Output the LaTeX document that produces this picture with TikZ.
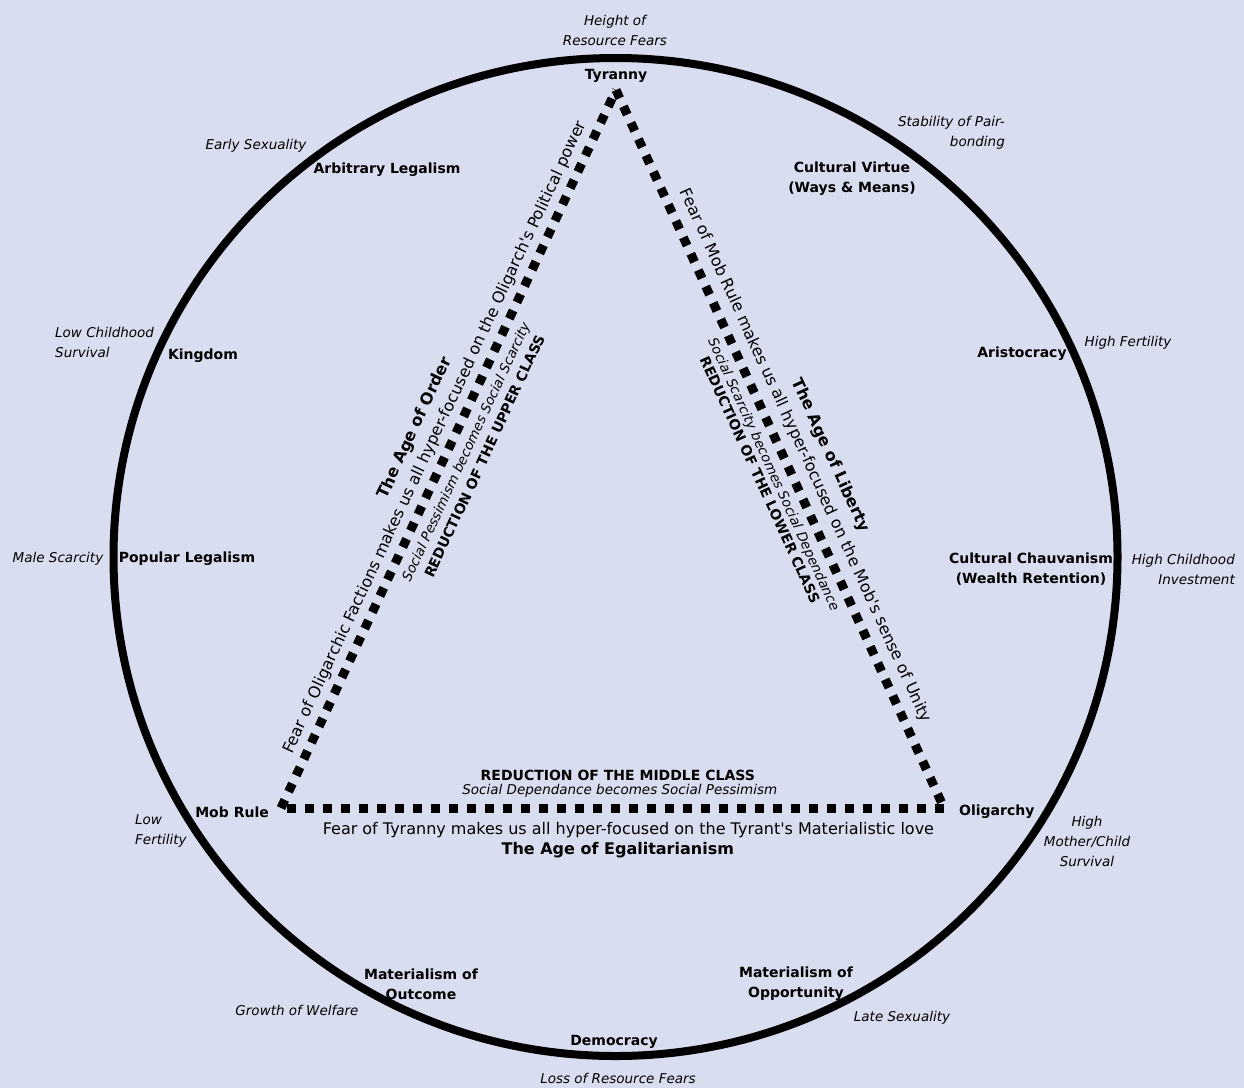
\documentclass[tikz,border=0pt]{standalone}
\usepackage{fontspec}
\setmainfont{DejaVu Sans}
\usepackage{tikz}
\usetikzlibrary{positioning,calc}
\definecolor{paper}{RGB}{217,221,240}
\tikzset{
  stage/.style={
    font=\fontsize{14}{20}\selectfont\bfseries,
    align=center, inner sep=0pt
  },
  trait/.style={
    font=\fontsize{13.5}{20}\selectfont\itshape,
    align=center, inner sep=0pt
  },
  creed/.style={font=\fontsize{16}{19}\selectfont, inner sep=0pt},
  agename/.style={font=\fontsize{16}{19}\selectfont\bfseries, inner sep=0pt},
  classhead/.style={font=\fontsize{14}{17}\selectfont\bfseries, inner sep=0pt},
  classnote/.style={font=\fontsize{13.5}{17}\selectfont\itshape, inner sep=0pt},
  rim/.style={line width=8pt},
  fearline/.style={line width=9pt, dash pattern=on 9pt off 9pt}
}

\begin{document}
\begin{tikzpicture}[x=1pt, y=-1pt]
  \fill[paper] (0,0) rectangle (1244,1088);
  \useasboundingbox (0,0) rectangle (1244,1088);

  % the cycle
  \draw[rim] (615.5,557) ellipse [x radius=502, y radius=499];

  % the triangle of fears
  \coordinate (tyr) at (616,90);
  \coordinate (mob) at (281,808);
  \coordinate (oli) at (944,808);
  \draw[fearline] (mob) -- (tyr);
  \draw[fearline] (tyr) -- (oli);
  \draw[fearline] (oli) -- (mob);

  \node[stage, above=7pt of tyr] (tyranny) {Tyranny};
  \node[stage, left=12pt of mob, yshift=-4pt] (mobrule) {Mob Rule};
  \node[stage, right=15pt of oli, yshift=-4pt] (oligarchy) {Oligarchy};

  % left side
  \path (mob) -- (tyr)
    node[creed, sloped, pos=0.506, yshift=17pt] {Fear of Oligarchic Factions makes us all hyper-focused on the Oligarch\textquotesingle s Political power}
    node[agename, sloped, pos=0.506, yshift=39pt] {The Age of Order}
    node[classnote, sloped, pos=0.506, yshift=-18pt] {Social Pessimism becomes Social Scarcity}
    node[classhead, sloped, pos=0.511, yshift=-36pt] {REDUCTION OF THE UPPER CLASS};

  % right side
  \path (tyr) -- (oli)
    node[creed, sloped, pos=0.521, yshift=20pt] {Fear of Mob Rule makes us all hyper-focused on the Mob\textquotesingle s sense of Unity}
    node[agename, sloped, pos=0.534, yshift=43pt] {The Age of Liberty}
    node[classnote, sloped, pos=0.526, yshift=-17pt] {Social Scarcity becomes Social Dependance}
    node[classhead, sloped, pos=0.525, yshift=-31pt] {REDUCTION OF THE LOWER CLASS};

  % base
  \path (mob) -- (oli)
    node[classhead, pos=0.508, yshift=33pt] {REDUCTION OF THE MIDDLE CLASS}
    node[classnote, pos=0.511, yshift=17pt] {Social Dependance becomes Social Pessimism}
    node[creed, pos=0.524, yshift=-22pt] {Fear of Tyranny makes us all hyper-focused on the Tyrant\textquotesingle s Materialistic love}
    node[agename, pos=0.508, yshift=-42pt] {The Age of Egalitarianism};

  % stages round the rim
  \node[stage] (arblegal) at (387,170) {Arbitrary Legalism};
  \node[stage] (culvirtue) at (852,179) {Cultural Virtue\\(Ways \& Means)};
  \node[stage] (kingdom) at (203,356) {Kingdom};
  \node[stage] (aristo) at (1022,354) {Aristocracy};
  \node[stage] (poplegal) at (187,559) {Popular Legalism};
  \node[stage] (chauv) at (1031,569) {Cultural Chauvanism\\(Wealth Retention)};
  \node[stage] (matout) at (421,984) {Materialism of\\Outcome};
  \node[stage] (matopp) at (796,984) {Materialism of\\Opportunity};
  \node[stage] (democracy) at (614,1042) {Democracy};

  % traits outside the rim
  \node[trait] (resfear) at (615,30) {Height of\\Resource Fears};
  \node[trait] (earlysex) at (256,146) {Early Sexuality};
  \node[trait, align=right, anchor=east] (pairbond) at (1005,133) {Stability of Pair-\\bonding};
  \node[trait, align=left, anchor=west] (lowchild) at (55,342) {Low Childhood\\Survival};
  \node[trait] (highfert) at (1128,343) {High Fertility};
  \node[trait] (malescar) at (58,559) {Male Scarcity};
  \node[trait, align=right, anchor=east] (highinvest) at (1235,569) {High Childhood\\Investment};
  \node[trait, align=left, anchor=west] (lowfert) at (135,831) {Low\\Fertility};
  \node[trait] (highsurv) at (1087,841) {High\\Mother/Child\\Survival};
  \node[trait] (welfare) at (297,1010) {Growth of Welfare};
  \node[trait] (latesex) at (902,1018) {Late Sexuality};
  \node[trait] (lossfear) at (618,1078) {Loss of Resource Fears};
\end{tikzpicture}
\end{document}
